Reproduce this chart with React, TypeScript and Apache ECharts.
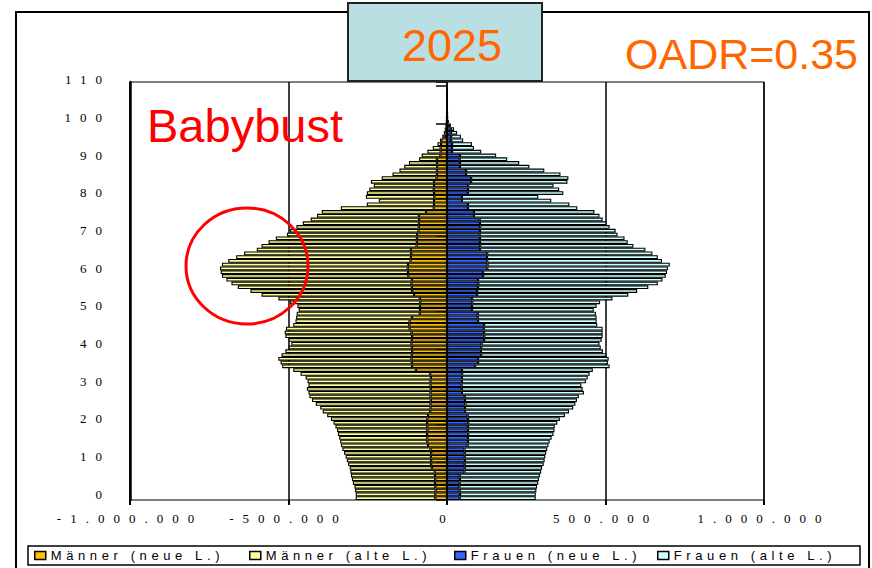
import React, { useEffect, useRef } from "react";
import * as echarts from "echarts";

// Age categories 0..110 (labels every 10 years)
const ages: string[] = Array.from({ length: 111 }, (_, i) => String(i));
const xTickValues = [-1000000, -500000, 0, 500000, 1000000];

const seriesNames = ["Männer (neue L.)", "Männer (alte L.)", "Frauen (neue L.)", "Frauen (alte L.)"];

// Männer, neue Länder (persons, age 0 upwards)
const maennerNeue = [
  37000, 37000, 36000, 37000, 38000, 37000, 38000, 39000,
  48000, 50000, 50000, 51000, 50000, 52000,
  60000, 62000, 62000, 63000, 62000, 62000, 63000, 62000, 60000,
  53000, 52000, 52000, 51000, 52000, 52000, 51000, 52000, 52000, 51000, 53000,
  98000,
  110000, 111000, 112000, 111000, 110000, 111000, 112000, 111000, 110000, 112000,
  118000, 119000, 118000,
  111000,
  86000, 85000, 85000, 84000, 86000,
  104000,
  110000, 111000, 112000, 111000,
  122000, 123000, 124000, 123000,
  115000, 114000, 113000, 114000,
  96000, 95000, 95000, 94000,
  90000, 89000, 89000, 88000, 89000,
  66000,
  42000, 41000, 41000, 40000, 41000, 42000, 41000, 41000,
  33000, 32000, 32000, 31000, 32000, 32000,
  21000, 20000, 20000, 19000, 18000,
  7000, 5000, 3500, 2500, 1500, 1200, 1000, 700, 600, 500, 400, 250, 150,
];

// Männer, all Germany (outer extent of the left bars)
const maennerGesamt = [
  288000,
  288000, 290000, 292000, 297000, 300000, 303000, 305000, 307000, 312000, 316000,
  320000, 325000, 330000, 334000, 337000, 340000, 344000, 347000, 352000, 358000,
  366000, 378000, 392000, 400000, 414000, 426000, 434000, 437000, 442000, 437000,
  440000, 446000, 462000, 485000, 520000, 525000, 532000, 522000, 510000, 500000,
  491000, 500000, 510000, 512000, 508000, 485000, 478000, 476000, 474000, 468000,
  472000, 495000, 532000, 585000, 620000, 660000, 680000, 696000, 710000, 714000,
  716000, 710000, 690000, 665000, 640000, 600000, 585000, 563000, 540000, 505000,
  495000, 475000, 455000, 430000, 410000, 395000, 335000, 253000, 215000, 256000,
  253000, 245000, 231000, 240000, 206000, 172000, 150000, 135000, 120000, 88000,
  80000, 62000, 45000, 30000, 22000, 15000, 10000, 7000, 5000, 3000,
  2500, 2000, 1500, 1200, 1000, 800, 500, 300,
];

// Frauen, neue Länder
const frauenNeue = [
  40000, 41000, 40000, 39000, 40000, 41000, 40000,
  55000, 56000, 56000, 57000, 56000, 56000, 55000,
  65000, 66000, 66000, 67000, 66000, 66000, 67000, 66000, 65000,
  57000, 57000, 58000, 57000, 56000,
  47000, 47000, 46000, 47000, 47000, 48000, 47000,
  89000,
  98000, 98000,
  108000, 107000, 108000, 109000,
  117000, 118000, 117000, 116000, 117000,
  98000, 97000, 97000,
  79000, 79000, 80000, 79000,
  95000, 95000,
  98000, 99000, 98000,
  114000, 114000,
  127000, 128000, 127000, 126000, 127000,
  104000, 105000, 104000, 104000, 103000, 104000, 105000, 104000, 103000,
  85000, 85000,
  66000, 66000,
  47000, 47000,
  66000, 66000, 67000,
  76000, 76000,
  60000, 60000,
  41000, 41000, 40000, 41000,
  16000, 16000, 16000,
  13000, 13000, 12000, 12000,
  6000, 3000, 1500, 1200, 1000, 700, 600, 500, 300, 200,
];

// Frauen, all Germany (outer extent of the right bars)
const frauenGesamt = [
  280000,
  280000, 282000, 284000, 288000, 290000, 293000, 297000, 300000, 305000, 308000,
  310000, 313000, 316000, 320000, 324000, 330000, 336000, 339000, 340000, 348000,
  356000, 372000, 385000, 398000, 405000, 410000, 416000, 432000, 428000, 424000,
  438000, 444000, 450000, 460000, 513000, 508000, 510000, 503000, 492000, 485000,
  481000, 488000, 491000, 491000, 491000, 474000, 472000, 472000, 470000, 463000,
  472000, 483000, 522000, 572000, 600000, 635000, 665000, 680000, 690000, 694000,
  697000, 703000, 678000, 665000, 648000, 626000, 588000, 570000, 560000, 538000,
  532000, 513000, 503000, 491000, 481000, 465000, 411000, 386000, 329000, 288000,
  367000, 354000, 336000, 380000, 383000, 358000, 307000, 260000, 228000, 190000,
  155000, 108000, 85000, 79000, 51000, 44000, 32000, 22000, 12000, 6000,
  3000, 2500, 2000, 1500, 1200, 1000, 600, 400,
];

const colors = ["#FFC000", "#FFFF99", "#3366FF", "#CCFFFF"];

const fmtDe = (v: number) => {
  const s = Math.abs(v).toString().replace(/\B(?=(\d{3})+(?!\d))/g, ".");
  return (v < 0 ? "-" : "") + s;
};

export default function App() {
  const ref = useRef<HTMLDivElement>(null);
  useEffect(() => {
    if (!ref.current) return;
    const chart = echarts.init(ref.current, undefined, { renderer: "svg" });

    const maennerAlte = maennerGesamt.map((v, i) => v - maennerNeue[i]);
    const frauenAlte = frauenGesamt.map((v, i) => v - frauenNeue[i]);
    const seriesData = [
      maennerNeue.map((v) => -v),
      maennerAlte.map((v) => -v),
      frauenNeue,
      frauenAlte,
    ];

    const legendLefts = [34, 249, 454, 657];

    chart.setOption({
      animation: false,
      grid: {
        left: 130,
        right: 108,
        top: 82,
        bottom: 68,
        show: true,
        borderColor: "#000",
        borderWidth: 1,
        backgroundColor: "transparent",
      },
      legend: seriesNames.map((n, i) => ({
        data: [n],
        left: legendLefts[i],
        top: 549,
        padding: 0,
        icon: "rect",
        itemWidth: 11,
        itemHeight: 8,
        itemStyle: { borderColor: "#000", borderWidth: 1.5 },
        textStyle: { fontFamily: "Liberation Sans", fontSize: 13, color: "#000" },
        selectedMode: false,
      })),
      xAxis: {
        type: "value",
        min: xTickValues[0],
        max: xTickValues[xTickValues.length - 1],
        interval: 500000,
        axisLine: { onZero: false, lineStyle: { color: "#000", width: 2 } },
        axisTick: { show: true, length: 5, lineStyle: { color: "#000", width: 2 } },
        axisLabel: {
          formatter: (v: number) => fmtDe(v),
          fontFamily: "Liberation Serif",
          fontSize: 13,
          color: "#000",
          margin: 12,
        },
        splitLine: { show: true, lineStyle: { color: "#000", width: 1.5 } },
      },
      yAxis: [
        {
          type: "category",
          data: ages,
          position: "left",
          axisLine: { onZero: false, lineStyle: { color: "#000", width: 2.5 } },
          axisTick: { show: false },
          axisLabel: {
            interval: 9,
            fontFamily: "Liberation Serif",
            fontSize: 13,
            color: "#000",
            margin: 19,
            verticalAlign: "bottom",
            lineHeight: 8,
          },
          splitLine: { show: false },
        },
        {
          type: "category",
          data: ages,
          position: "left",
          axisLine: { show: true, onZero: true, lineStyle: { color: "#000", width: 1.5 } },
          axisTick: { show: true, interval: 9, length: 11, lineStyle: { color: "#000", width: 1.5 } },
          axisLabel: { show: false },
          splitLine: { show: false },
        },
      ],
      series: seriesNames.map((n, i) => ({
        name: n,
        type: "bar",
        stack: "pop",
        yAxisIndex: 0,
        barCategoryGap: "0%",
        data: seriesData[i],
        itemStyle: { color: colors[i], borderColor: "#000", borderWidth: 1.1 },
      })),
      graphic: [
        {
          type: "rect",
          z: 0,
          shape: { x: 16, y: 12, width: 853, height: 600 },
          style: { fill: "none", stroke: "#000", lineWidth: 2 },
          silent: true,
        },
        {
          type: "rect",
          z: 0,
          shape: { x: 28, y: 546, width: 832, height: 19 },
          style: { fill: "#fff", stroke: "#000", lineWidth: 1.5 },
          silent: true,
        },
        {
          type: "rect",
          z: 20,
          shape: { x: 348, y: 3, width: 194, height: 78 },
          style: { fill: "#B9DFE2", stroke: "#222", lineWidth: 2 },
          silent: true,
        },
        {
          type: "text",
          z: 21,
          style: {
            text: "2025",
            x: 452,
            y: 45,
            align: "center",
            verticalAlign: "middle",
            font: "45px Arial",
            fill: "#FF6600",
          },
          silent: true,
        },
        {
          type: "text",
          z: 21,
          style: {
            text: "OADR=0.35",
            x: 625,
            y: 54,
            align: "left",
            verticalAlign: "middle",
            font: "43px Arial",
            fill: "#FF6600",
          },
          silent: true,
        },
        {
          type: "text",
          z: 21,
          style: {
            text: "Babybust",
            x: 147,
            y: 125,
            align: "left",
            verticalAlign: "middle",
            font: "47px Arial",
            fill: "#FF0000",
          },
          silent: true,
        },
        {
          type: "ellipse",
          z: 21,
          shape: { cx: 247, cy: 266, rx: 61, ry: 58 },
          style: { fill: "none", stroke: "#FF0000", lineWidth: 3 },
          silent: true,
        },
      ],
    });
    return () => chart.dispose();
  }, []);

  return (
    <>
      <style>{`svg text[style*="Liberation Serif"]{letter-spacing:9px}svg text[style*="Liberation Sans"]{letter-spacing:4.6px}`}</style>
      <div ref={ref} style={{ position: "absolute", left: 0, top: 0, width: 872, height: 568 }} />
    </>
  );
}
